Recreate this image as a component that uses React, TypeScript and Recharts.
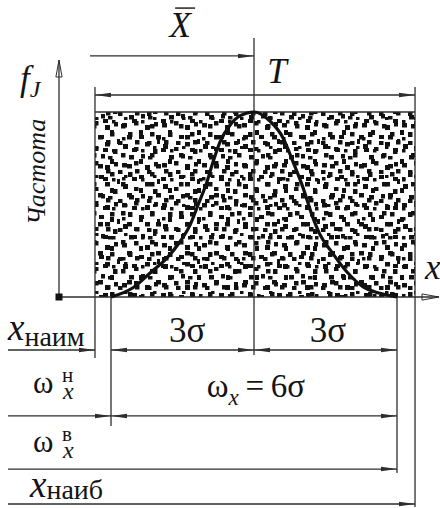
import React from 'react';
import {
  ComposedChart,
  Line,
  XAxis,
  YAxis,
  ReferenceLine,
  ReferenceArea,
  ReferenceDot,
} from 'recharts';

// Frequency curve of the dimension x, abscissa in units of sigma from the mean,
// ordinate as frequency relative to the peak.
const curveX = [
  -3.0, -2.54, -2.18, -1.83, -1.55, -1.34, -1.17, -0.99, -0.86, -0.71, -0.5, -0.29, 0,
  0.34, 0.61, 0.82, 1.03, 1.22, 1.38, 1.64, 1.95, 2.29, 2.64, 3.0,
];
const curveF = [
  0.0, 0.05, 0.13, 0.21, 0.3, 0.39, 0.5, 0.62, 0.73, 0.84, 0.93, 0.98, 1.0,
  0.95, 0.86, 0.73, 0.59, 0.44, 0.34, 0.24, 0.135, 0.055, 0.02, 0.0,
];

// Key abscissae (sigma units)
const MEAN = 0;
const LOW_3S = -3; // x_mean - 3 sigma
const HIGH_3S = 3; // x_mean + 3 sigma
const T_LOW = -3.336; // x_наим
const T_HIGH = 3.378; // x_наиб

const data = curveX.map((x, i) => ({ x, f: curveF[i] }));

// Layout of the drawing (same units as the axes)
const X_DOMAIN: [number, number] = [-5.3287, 3.902];
const Y_DOMAIN: [number, number] = [-1.1405, 1.6054];
const AXIS_X = -4.091;
const AXIS_TOP = 1.281;
const AXIS_RIGHT = 3.881;
const LEFT_EDGE = -5.161;
const XBAR_START = -3.44;
const XBAR_ROW = 1.303;
const T_ROW = 1.092;
const EXT_TOP = 1.135;
const ROW_NAIM = -0.2865;
const ROW_OMEGA_N = -0.643;
const ROW_OMEGA_V = -0.93;
const ROW_NAIB = -1.119;

const INK = '#141414';
const LINE = '#2e2e2e';
const SERIF = 'Liberation Serif';

type Seg = {
  x1: number;
  y1: number;
  x2: number;
  y2: number;
  start?: string;
  end?: string;
};

const segments: Seg[] = [
  // axes
  { x1: AXIS_X, y1: 0, x2: AXIS_X, y2: AXIS_TOP, end: 'axisArrow' },
  { x1: AXIS_X, y1: 0, x2: AXIS_RIGHT, y2: 0, end: 'axisArrow' },
  // tolerance field frame
  { x1: T_LOW, y1: 1, x2: T_HIGH, y2: 1 },
  { x1: T_LOW, y1: EXT_TOP, x2: T_LOW, y2: -0.33 },
  { x1: T_HIGH, y1: EXT_TOP, x2: T_HIGH, y2: -1.135 },
  // mean line and +-3 sigma extension lines
  { x1: MEAN, y1: 1.4, x2: MEAN, y2: -0.3135 },
  { x1: LOW_3S, y1: 0, x2: LOW_3S, y2: -0.697 },
  { x1: HIGH_3S, y1: 0, x2: HIGH_3S, y2: -0.951 },
  // dimension lines
  { x1: XBAR_START, y1: XBAR_ROW, x2: MEAN, y2: XBAR_ROW, end: 'dimArrow' },
  { x1: T_LOW, y1: T_ROW, x2: T_HIGH, y2: T_ROW, start: 'dimArrow', end: 'dimArrow' },
  { x1: LEFT_EDGE, y1: ROW_NAIM, x2: T_LOW, y2: ROW_NAIM, end: 'dimArrow' },
  { x1: LOW_3S, y1: ROW_NAIM, x2: MEAN, y2: ROW_NAIM, start: 'dimArrow', end: 'dimArrow' },
  { x1: MEAN, y1: ROW_NAIM, x2: HIGH_3S, y2: ROW_NAIM, start: 'dimArrow', end: 'dimArrow' },
  { x1: LEFT_EDGE, y1: ROW_OMEGA_N, x2: LOW_3S, y2: ROW_OMEGA_N, end: 'dimArrow' },
  { x1: LOW_3S, y1: ROW_OMEGA_N, x2: HIGH_3S, y2: ROW_OMEGA_N, start: 'dimArrow', end: 'dimArrow' },
  { x1: LEFT_EDGE, y1: ROW_OMEGA_V, x2: HIGH_3S, y2: ROW_OMEGA_V, end: 'dimArrow' },
  { x1: LEFT_EDGE, y1: ROW_NAIB, x2: T_HIGH, y2: ROW_NAIB, end: 'dimArrow' },
];

// Speckle texture: two tiles of different size overlaid to avoid a visible grid
const speckleA = [
  [2, 3, 5, 4.5], [14, 1, 4.5, 4.5], [25, 5, 5, 5], [34, 2, 4, 4.5],
  [8, 12, 4.5, 5], [19, 15, 5, 4], [30, 12, 4.5, 4.5], [37, 19, 4, 5],
  [3, 24, 5, 5], [14, 27, 4.5, 4], [25, 22, 5, 4.5], [33, 29, 4.5, 5],
  [9, 35, 5, 4.5], [21, 34, 4, 4.5], [28, 36, 4.5, 3.5], [2, 17, 3.5, 3.5],
];
const speckleB = [
  [5, 8, 4.5, 4.5], [16, 3, 5, 4], [23, 14, 4, 5], [11, 19, 5, 4.5],
  [2, 25, 4.5, 4], [19, 24, 4.5, 4.5], [25, 4, 3.5, 3.5], [8, 1, 3.5, 3],
];

const Defs = () => (
  <svg width={0} height={0} style={{ position: 'absolute' }}>
    <defs>
      <pattern id="speckleA" width={40} height={40} patternUnits="userSpaceOnUse">
        {speckleA.map(([x, y, w, h], i) => (
          <rect key={i} x={x} y={y} width={w} height={h} fill="#111" />
        ))}
      </pattern>
      <pattern id="speckleB" width={29} height={29} patternUnits="userSpaceOnUse">
        {speckleB.map(([x, y, w, h], i) => (
          <rect key={i} x={x} y={y} width={w} height={h} fill="#111" />
        ))}
      </pattern>
      <marker
        id="dimArrow"
        markerUnits="userSpaceOnUse"
        markerWidth={17}
        markerHeight={6}
        refX={16}
        refY={3}
        viewBox="0 0 17 6"
        orient="auto-start-reverse"
      >
        <path d="M0,0.8 L16,3 L0,5.2 Z" fill={LINE} />
      </marker>
      <marker
        id="axisArrow"
        markerUnits="userSpaceOnUse"
        markerWidth={20}
        markerHeight={9}
        refX={18}
        refY={4.5}
        viewBox="0 0 20 9"
        orient="auto"
      >
        <path d="M1,1.4 L18,4.5 L1,7.6 Z" fill="none" stroke={LINE} strokeWidth={1} />
      </marker>
    </defs>
  </svg>
);

const segShape = (s: Seg) => (p: any) => (
  <line
    x1={p.x1}
    y1={p.y1}
    x2={p.x2}
    y2={p.y2}
    stroke={LINE}
    strokeWidth={1.3}
    markerStart={s.start ? `url(#${s.start})` : undefined}
    markerEnd={s.end ? `url(#${s.end})` : undefined}
  />
);

type LabelDef = { x: number; y: number; draw: (cx: number, cy: number) => React.ReactElement };

const Txt = (props: any) => <text fill={INK} style={{ fontFamily: `'${SERIF}'` }} {...props} />;

const omegaLabel = (sup: string) => (cx: number, cy: number) => (
  <Txt x={cx} y={cy} fontSize={31}>
    ω
    <tspan x={cx + 29} dy={-11} fontSize={21}>{sup}</tspan>
    <tspan x={cx + 30} dy={17} fontSize={24} fontStyle="italic">x</tspan>
  </Txt>
);

const labels: LabelDef[] = [
  {
    x: -1.55,
    y: 1.405,
    draw: (cx, cy) => (
      <g>
        <Txt x={cx} y={cy} textAnchor="middle" fontSize={35} fontStyle="italic">X</Txt>
        <line x1={cx - 5} x2={cx + 15} y1={cy - 29} y2={cy - 29} stroke={INK} strokeWidth={1.4} />
      </g>
    ),
  },
  {
    x: 0.48,
    y: 1.157,
    draw: (cx, cy) => (
      <Txt x={cx} y={cy} textAnchor="middle" fontSize={35} fontStyle="italic">T</Txt>
    ),
  },
  {
    x: -4.91,
    y: 1.119,
    draw: (cx, cy) => (
      <Txt x={cx} y={cy} fontStyle="italic">
        <tspan fontSize={35}>f</tspan>
        <tspan fontSize={24} dy={7}>J</tspan>
      </Txt>
    ),
  },
  {
    x: -4.385,
    y: 0.676,
    draw: (cx, cy) => (
      <Txt
        x={cx}
        y={cy}
        textAnchor="middle"
        fontSize={26}
        fontStyle="italic"
        transform={`rotate(-90 ${cx} ${cy})`}
      >
        Частота
      </Txt>
    ),
  },
  {
    x: 3.587,
    y: 0.097,
    draw: (cx, cy) => (
      <Txt x={cx} y={cy} fontSize={35} fontStyle="italic">x</Txt>
    ),
  },
  {
    x: -1.4,
    y: -0.243,
    draw: (cx, cy) => (
      <Txt x={cx} y={cy} textAnchor="middle" fontSize={35}>3σ</Txt>
    ),
  },
  {
    x: 1.55,
    y: -0.243,
    draw: (cx, cy) => (
      <Txt x={cx} y={cy} textAnchor="middle" fontSize={35}>3σ</Txt>
    ),
  },
  {
    x: 0.04,
    y: -0.541,
    draw: (cx, cy) => (
      <Txt x={cx} y={cy} textAnchor="middle" fontSize={33}>
        <tspan>ω</tspan>
        <tspan fontSize={23} fontStyle="italic" dy={8}>x</tspan>
        <tspan dy={-8}>{'\u2009=\u20096σ'}</tspan>
      </Txt>
    ),
  },
  {
    x: LEFT_EDGE,
    y: -0.232,
    draw: (cx, cy) => (
      <Txt x={cx} y={cy}>
        <tspan fontSize={37} fontStyle="italic">x</tspan>
        <tspan fontSize={28} dy={6}>наим</tspan>
      </Txt>
    ),
  },
  { x: -4.636, y: -0.519, draw: omegaLabel('н') },
  { x: -4.636, y: -0.838, draw: omegaLabel('в') },
  {
    x: -4.699,
    y: -1.081,
    draw: (cx, cy) => (
      <Txt x={cx} y={cy}>
        <tspan fontSize={37} fontStyle="italic">x</tspan>
        <tspan fontSize={28} dy={2}>наиб</tspan>
      </Txt>
    ),
  },
];

export default function App() {
  return (
    <div style={{ position: 'fixed', left: 0, top: 0, width: 440, height: 508, background: '#fff' }}>
      <Defs />
      <ComposedChart
        width={440}
        height={508}
        data={data}
        margin={{ top: 0, right: 0, bottom: 0, left: 0 }}
      >
        <XAxis dataKey="x" type="number" domain={X_DOMAIN} allowDataOverflow hide />
        <YAxis type="number" domain={Y_DOMAIN} allowDataOverflow hide />
        <ReferenceArea x1={T_LOW} x2={T_HIGH} y1={0} y2={1} fill="url(#speckleA)" fillOpacity={1} stroke="none" />
        <ReferenceArea x1={T_LOW} x2={T_HIGH} y1={0} y2={1} fill="url(#speckleB)" fillOpacity={1} stroke="none" />
        {segments.map((s, i) => (
          <ReferenceLine key={`s${i}`} segment={[{ x: s.x1, y: s.y1 }, { x: s.x2, y: s.y2 }]} shape={segShape(s)} />
        ))}
        <Line
          type="monotone"
          dataKey="f"
          stroke="#111"
          strokeWidth={3.2}
          dot={false}
          activeDot={false}
          isAnimationActive={false}
        />
        <ReferenceDot
          x={AXIS_X}
          y={0}
          r={4}
          shape={(p: any) => <rect x={p.cx - 3.5} y={p.cy - 3.5} width={7} height={7} fill="#111" />}
        />
        {labels.map((l, i) => (
          <ReferenceDot key={`l${i}`} x={l.x} y={l.y} r={1} shape={(p: any) => l.draw(p.cx, p.cy)} />
        ))}
      </ComposedChart>
    </div>
  );
}
